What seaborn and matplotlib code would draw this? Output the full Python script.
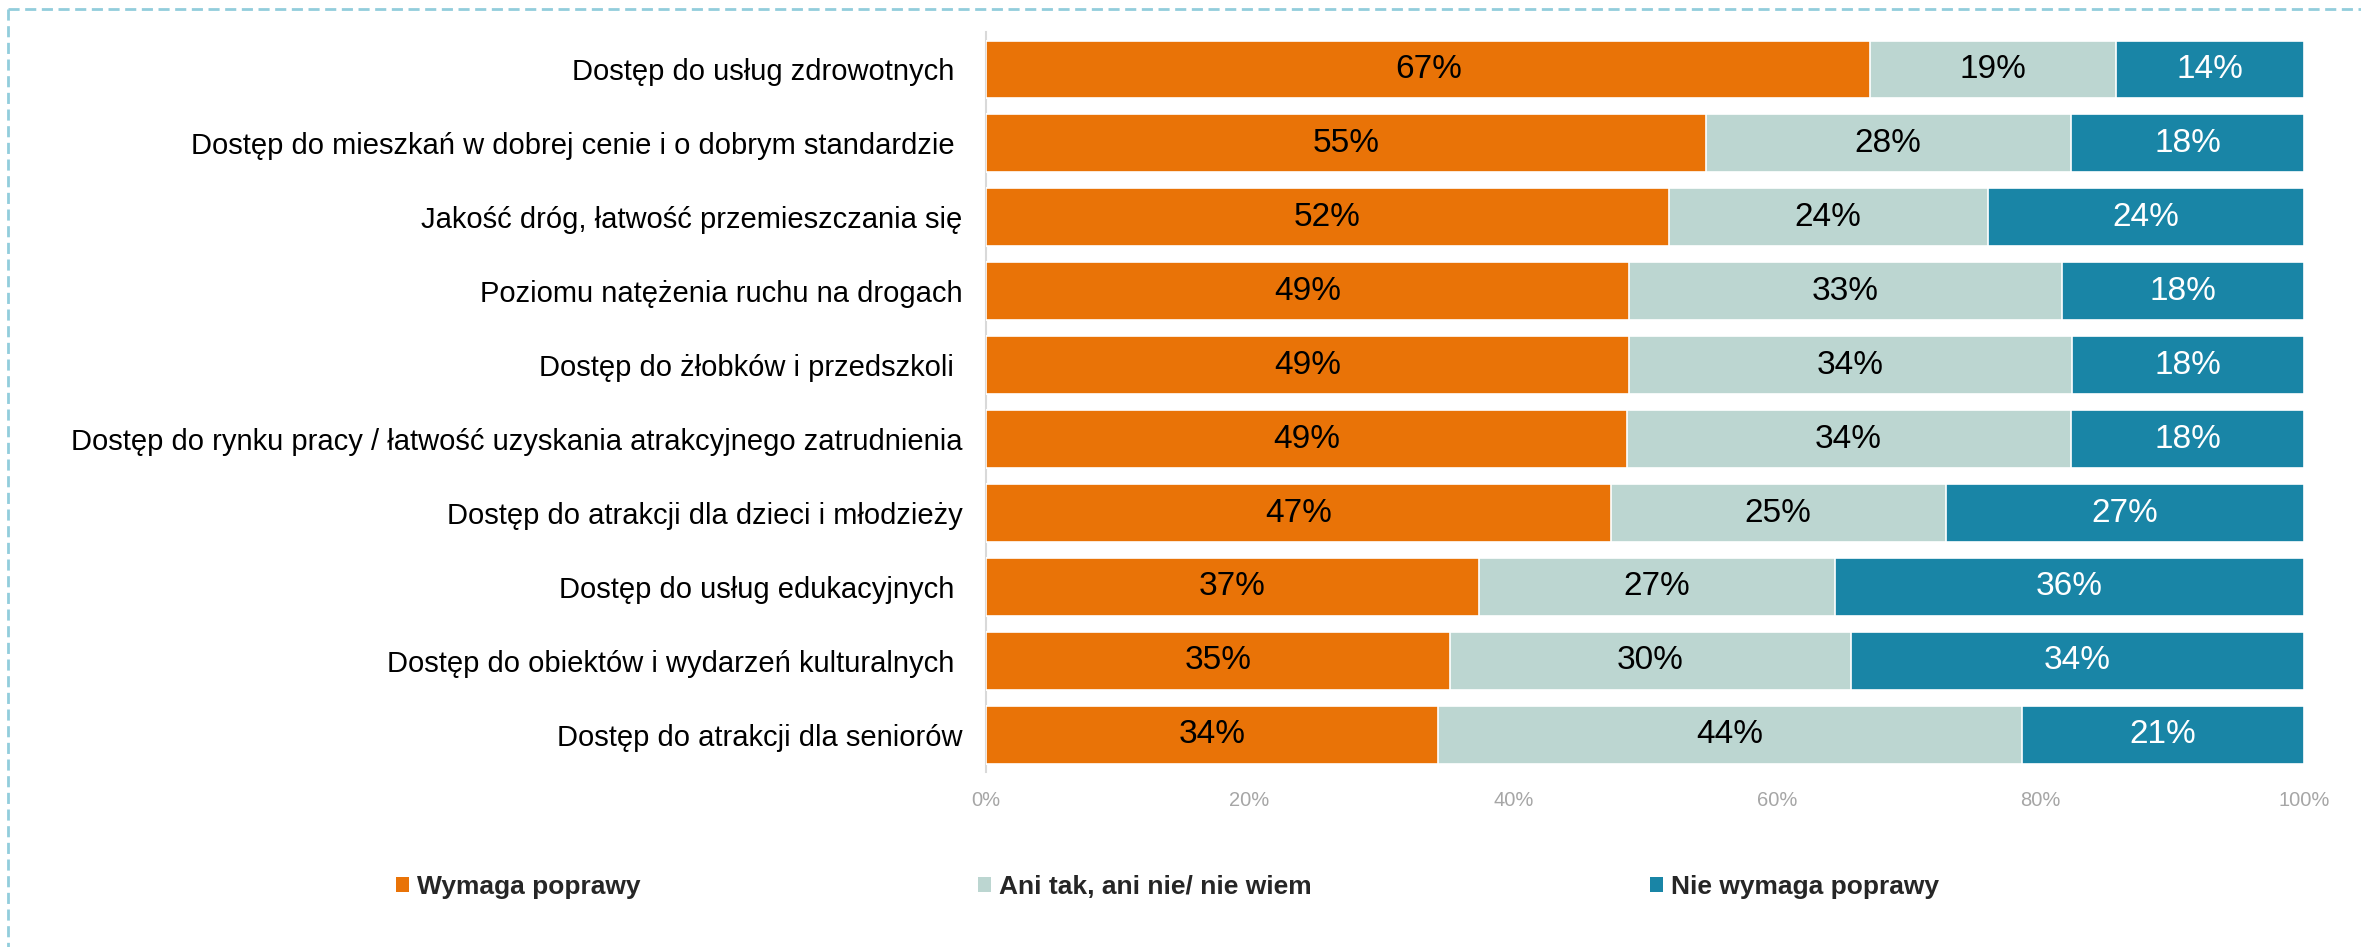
import matplotlib
matplotlib.use("Agg")
import matplotlib.pyplot as plt
import seaborn as sns
import pandas as pd
import numpy as np
from matplotlib.patches import Patch
from matplotlib.lines import Line2D

categories = [
    "Dostęp do usług zdrowotnych ",
    "Dostęp do mieszkań w dobrej cenie i o dobrym standardzie ",
    "Jakość dróg, łatwość przemieszczania się",
    "Poziomu natężenia ruchu na drogach",
    "Dostęp do żłobków i przedszkoli ",
    "Dostęp do rynku pracy / łatwość uzyskania atrakcyjnego zatrudnienia",
    "Dostęp do atrakcji dla dzieci i młodzieży",
    "Dostęp do usług edukacyjnych ",
    "Dostęp do obiektów i wydarzeń kulturalnych ",
    "Dostęp do atrakcji dla seniorów",
]
wymaga = [67.1, 54.6, 51.8, 48.8, 48.8, 48.6, 47.4, 37.4, 35.2, 34.3]
ani = [18.6, 27.7, 24.2, 32.8, 33.6, 33.7, 25.4, 27.0, 30.4, 44.3]
nie = [14.3, 17.7, 24.0, 18.4, 17.6, 17.7, 27.2, 35.6, 34.4, 21.4]
series_names = ["Wymaga poprawy", "Ani tak, ani nie/ nie wiem", "Nie wymaga poprawy"]
colors = ["#E97307", "#BCD6D1", "#1985A6"]
label_colors = ["black", "black", "white"]
xticks = [0, 20, 40, 60, 80, 100]
xtick_labels = ["0%", "20%", "40%", "60%", "80%", "100%"]

sns.set_theme(style="white")
plt.rcParams["font.family"] = ["Liberation Sans", "DejaVu Sans"]

fig = plt.figure(figsize=(23.61, 9.47), dpi=100)
ax = fig.add_axes([0.4176, 0.185, 0.9759 - 0.4176, 0.9658 - 0.185])

df = pd.DataFrame({"cat": categories, series_names[0]: wymaga,
                   series_names[1]: ani, series_names[2]: nie})
left = np.zeros(len(categories))
for name, col, lc in zip(series_names, colors, label_colors):
    vals = df[name].values
    tot = left + vals
    sns.barplot(x=tot, y=df["cat"], color=col, orient="h", ax=ax,
                width=0.78, saturation=1, edgecolor="white", linewidth=1.2)
    for i, v in enumerate(vals):
        ax.text(left[i] + v / 2, i, f"{round(v)}%", ha="center", va="center",
                fontsize=24, color=lc, zorder=10)
    left = tot

# seaborn draws cumulative bars; put shorter ones on top
for j, cont in enumerate(ax.containers):
    for p in cont:
        p.set_zorder(5 - j)

ax.set_xlim(0, 100)
ax.set_ylim(len(categories) - 0.5, -0.5)
ax.set_xticks(xticks)
ax.set_xticklabels(xtick_labels, fontsize=14.5, color="#A6A6A6")
ax.tick_params(axis="x", length=0, pad=14)
ax.tick_params(axis="y", length=0, pad=17, labelsize=21, labelcolor="black")
ax.set_xlabel("")
ax.set_ylabel("")
for s in ["top", "right", "bottom"]:
    ax.spines[s].set_visible(False)
ax.spines["left"].set_color("#D9D9D9")
ax.spines["left"].set_linewidth(1.5)

handles = [Patch(facecolor=c, edgecolor="none") for c in colors]
leg = fig.legend(handles, series_names, loc="center left", ncol=3,
                 bbox_to_anchor=(0.1576, 0.063), frameon=False,
                 prop={"weight": "bold", "size": 19},
                 handlelength=0.5, handleheight=0.5, handletextpad=0.3,
                 columnspacing=12.8)

# dashed border (top and left)
bc = "#92CDDC"
fig.add_artist(Line2D([0.0034, 1.0], [0.9905, 0.9905], transform=fig.transFigure,
                      color=bc, lw=2, linestyle=(0, (4, 2))))
fig.add_artist(Line2D([0.0034, 0.0034], [0.9905, 0.0], transform=fig.transFigure,
                      color=bc, lw=2, linestyle=(0, (4, 2))))

fig.savefig("out.png", dpi=100)
